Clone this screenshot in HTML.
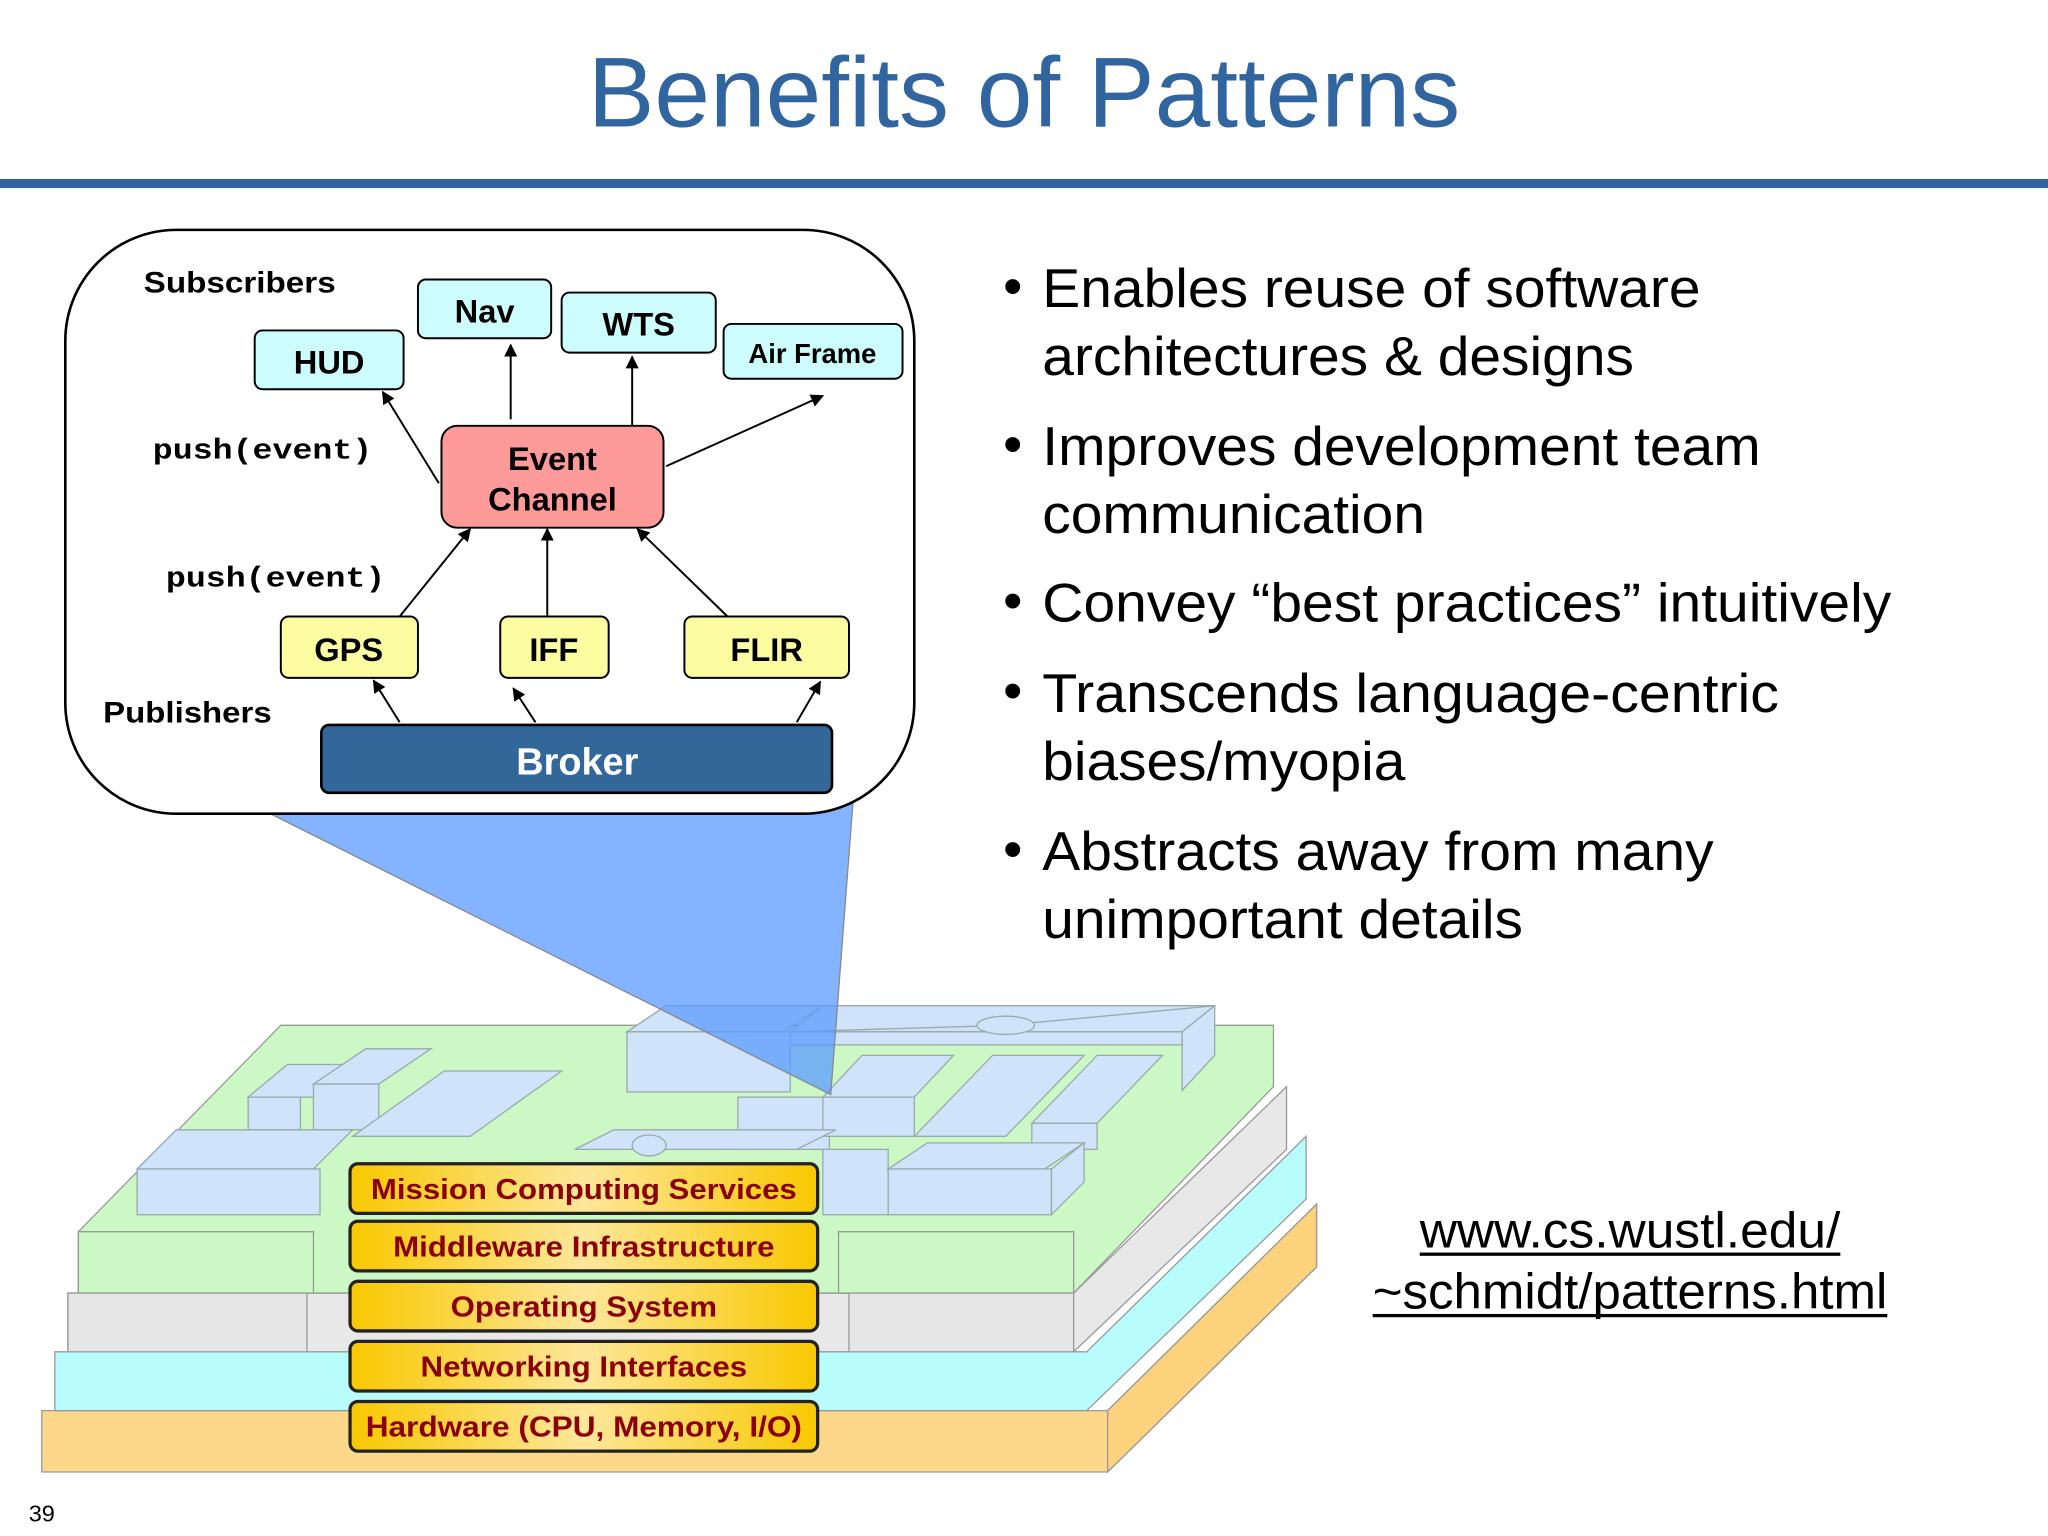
<!DOCTYPE html>
<html><head><meta charset="utf-8"><style>html,body{margin:0;padding:0;background:#fff}svg{display:block}</style></head>
<body>
<svg width="2048" height="1536" viewBox="0 0 1568 1176" xmlns="http://www.w3.org/2000/svg" font-family="Liberation Sans, Arial, sans-serif">
<defs>
<marker id="ah" markerWidth="10" markerHeight="10" refX="9" refY="5" orient="auto" markerUnits="userSpaceOnUse"><path d="M0,0 L10,5 L0,10 z" fill="#000"/></marker>
<linearGradient id="gold" x1="0" x2="1" y1="0" y2="0"><stop offset="0" stop-color="#f8c800"/><stop offset="0.5" stop-color="#fde79a"/><stop offset="1" stop-color="#f8c800"/></linearGradient>
</defs>
<rect width="1568" height="1176" fill="#fff"/>
<text x="784" y="97" text-anchor="middle" font-size="76" fill="#31659f" textLength="668" lengthAdjust="spacingAndGlyphs">Benefits of Patterns</text>
<rect x="0" y="137" width="1568" height="7" fill="#3464a0"/>

<!-- layered stack -->
<g stroke="#999" stroke-width="1">
<polygon points="32,1080 848,1080 1008,922 1008,970 848,1127 32,1127" fill="#fdd88a"/>
<polygon points="848,1080 1008,922 1008,970 848,1127" fill="#fcd27c"/>
<polygon points="42,1035 832,1035 1000,870 1000,918 832,1080 42,1080" fill="#b9fcfc"/>
<polygon points="52,990 822,990 985,832 985,880 822,1035 52,1035" fill="#e8e8e8"/>
<polygon points="60,943 215,785 975,785 975,832 822,990 60,990" fill="#ccf8c6"/>
<rect x="60" y="943" width="180" height="47" fill="#ccf8c6"/>
<rect x="642" y="943" width="180" height="47" fill="#ccf8c6"/>
<rect x="52" y="990" width="183" height="45" fill="#e6e6e6"/>
<rect x="650" y="990" width="172" height="45" fill="#e6e6e6"/>
<g fill="#cfe3fb" stroke="#9aa">
<polygon points="190,840 220,815 275,815 245,840"/>
<rect x="190" y="840" width="40" height="25"/>
<polygon points="240,830 280,803 330,803 290,830"/>
<rect x="240" y="830" width="50" height="35"/>
<polygon points="270,870 340,820 430,820 360,870"/>
<polygon points="105,895 135,865 270,865 240,895"/>
<rect x="105" y="895" width="140" height="35"/>
<polygon points="480,790 510,770 630,770 600,790"/>
<rect x="480" y="790" width="125" height="46"/>
<polygon points="605,790 630,770 930,770 905,790"/>
<polygon points="905,790 930,770 930,808 905,835"/>
<rect x="605" y="790" width="300" height="10"/>
<rect x="565" y="840" width="70" height="40"/>
<polygon points="630,840 660,808 730,808 700,840"/>
<rect x="630" y="840" width="70" height="30"/>
<polygon points="700,870 760,808 830,808 770,870"/>
<polygon points="790,860 840,808 890,808 840,860"/>
<rect x="790" y="860" width="50" height="20"/>
<polygon points="440,880 470,865 640,865 610,880"/>
<rect x="630" y="880" width="50" height="50"/>
<polygon points="680,895 710,875 830,875 800,895"/>
<rect x="680" y="895" width="125" height="35"/>
<polygon points="805,895 830,875 830,905 805,930"/>
</g>
<line x1="605" y1="790" x2="770" y2="785" stroke="#9aa"/>
<line x1="770" y1="785" x2="930" y2="770" stroke="#9aa"/>
<ellipse cx="770" cy="785" rx="22" ry="7" fill="#cfe3fb" stroke="#9aa"/>
<ellipse cx="497" cy="877" rx="13" ry="8" fill="#cfe3fb" stroke="#9aa"/>
</g>
<g font-weight="bold" font-size="22" fill="#8b0000" text-anchor="middle">
<g stroke="#222" stroke-width="2.5" fill="url(#gold)">
<rect x="268" y="891" width="358" height="38" rx="6"/>
<rect x="268" y="935" width="358" height="38" rx="6"/>
<rect x="268" y="981" width="358" height="38" rx="6"/>
<rect x="268" y="1027" width="358" height="38" rx="6"/>
<rect x="268" y="1073" width="358" height="38" rx="6"/>
</g>
<text x="447" y="918" textLength="326" lengthAdjust="spacingAndGlyphs">Mission Computing Services</text>
<text x="447" y="962" textLength="292" lengthAdjust="spacingAndGlyphs">Middleware Infrastructure</text>
<text x="447" y="1008" textLength="204" lengthAdjust="spacingAndGlyphs">Operating System</text>
<text x="447" y="1054" textLength="250" lengthAdjust="spacingAndGlyphs">Networking Interfaces</text>
<text x="447" y="1100" textLength="334" lengthAdjust="spacingAndGlyphs">Hardware (CPU, Memory, I/O)</text>
</g>

<polygon points="205,622 653,615 636,838" fill="#5b9bff" fill-opacity="0.75" stroke="#888" stroke-width="1"/>

<rect x="50" y="176" width="650" height="447" rx="85" fill="#fff" stroke="#000" stroke-width="2"/>
<g font-weight="bold" font-size="23" fill="#000">
<text x="110" y="224" textLength="147" lengthAdjust="spacingAndGlyphs">Subscribers</text>
<text x="79" y="553" textLength="129" lengthAdjust="spacingAndGlyphs">Publishers</text>
</g>
<g font-family="Liberation Mono, monospace" font-weight="bold" font-size="22">
<text x="117" y="351" textLength="168" lengthAdjust="spacingAndGlyphs">push(event)</text>
<text x="127" y="449" textLength="168" lengthAdjust="spacingAndGlyphs">push(event)</text>
</g>
<g stroke="#000" stroke-width="1.5">
<rect x="195" y="253" width="114" height="45" rx="6" fill="#ccfcfc"/>
<rect x="320" y="214" width="102" height="45" rx="6" fill="#ccfcfc"/>
<rect x="430" y="224" width="118" height="46" rx="6" fill="#ccfcfc"/>
<rect x="554" y="248" width="137" height="42" rx="6" fill="#ccfcfc"/>
<rect x="338" y="326" width="170" height="78" rx="12" fill="#fc9a9a"/>
<rect x="215" y="472" width="105" height="47" rx="6" fill="#fcfca0"/>
<rect x="383" y="472" width="83" height="47" rx="6" fill="#fcfca0"/>
<rect x="524" y="472" width="126" height="47" rx="6" fill="#fcfca0"/>
<rect x="246" y="555" width="391" height="52" rx="6" fill="#336699" stroke-width="2"/>
</g>
<g font-weight="bold" font-size="25" text-anchor="middle" fill="#000">
<text x="252" y="286">HUD</text>
<text x="371" y="247">Nav</text>
<text x="489" y="257">WTS</text>
<text x="622" y="278" font-size="21">Air Frame</text>
<text x="423" y="360">Event</text>
<text x="423" y="391">Channel</text>
<text x="267" y="506">GPS</text>
<text x="424" y="506">IFF</text>
<text x="587" y="506">FLIR</text>
<text x="442" y="593" font-size="29" fill="#fff">Broker</text>
</g>
<g stroke="#000" stroke-width="1.5" marker-end="url(#ah)">
<line x1="336" y1="370" x2="293" y2="300"/>
<line x1="391" y1="321" x2="391" y2="264"/>
<line x1="484" y1="326" x2="484" y2="273"/>
<line x1="510" y1="357" x2="630" y2="303"/>
<line x1="306" y1="472" x2="360" y2="405"/>
<line x1="419" y1="472" x2="419" y2="405"/>
<line x1="557" y1="472" x2="488" y2="405"/>
<line x1="306" y1="553" x2="286" y2="521"/>
<line x1="410" y1="553" x2="393" y2="527"/>
<line x1="610" y1="553" x2="628" y2="522"/>
</g>

<g font-size="42" fill="#000">
<text x="768" y="233">•</text><text x="798" y="235" textLength="504" lengthAdjust="spacingAndGlyphs">Enables reuse of software</text>
<text x="798" y="287" textLength="453" lengthAdjust="spacingAndGlyphs">architectures &amp; designs</text>
<text x="768" y="354">•</text><text x="798" y="356" textLength="550" lengthAdjust="spacingAndGlyphs">Improves development team</text>
<text x="798" y="408" textLength="293" lengthAdjust="spacingAndGlyphs">communication</text>
<text x="768" y="474">•</text><text x="798" y="476" textLength="650" lengthAdjust="spacingAndGlyphs">Convey “best practices” intuitively</text>
<text x="768" y="543">•</text><text x="798" y="545" textLength="564" lengthAdjust="spacingAndGlyphs">Transcends language-centric</text>
<text x="798" y="597" textLength="278" lengthAdjust="spacingAndGlyphs">biases/myopia</text>
<text x="768" y="664">•</text><text x="798" y="666" textLength="514" lengthAdjust="spacingAndGlyphs">Abstracts away from many</text>
<text x="798" y="718" textLength="368" lengthAdjust="spacingAndGlyphs">unimportant details</text>
</g>
<g font-size="38" fill="#000" text-anchor="middle">
<text x="1248" y="955" textLength="322" lengthAdjust="spacingAndGlyphs">www.cs.wustl.edu/</text>
<text x="1248" y="1002" textLength="394" lengthAdjust="spacingAndGlyphs">~schmidt/patterns.html</text>
</g>
<rect x="1087" y="959" width="322" height="2.5" fill="#000"/>
<rect x="1051" y="1006" width="394" height="2.5" fill="#000"/>
<text x="22" y="1165" font-size="18" fill="#000">39</text>
</svg>
</body></html>
